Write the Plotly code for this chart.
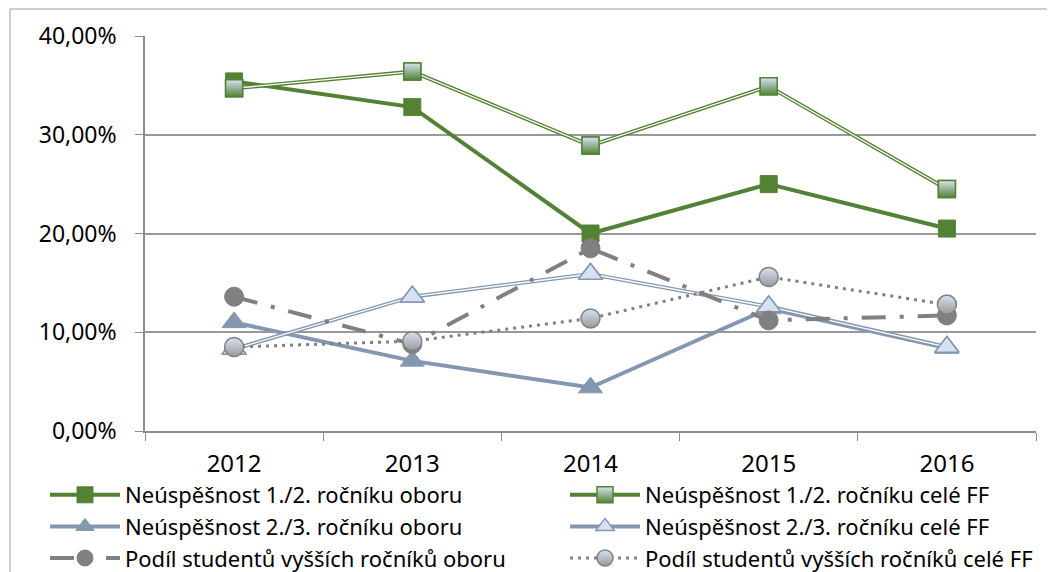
import plotly.graph_objects as go

# Years on the category axis
YEARS = ["2012", "2013", "2014", "2015", "2016"]

# Series values (fractions, shown as percent)
NEUSP_12_OBOR = [0.354, 0.328, 0.200, 0.250, 0.205]
NEUSP_12_FF = [0.347, 0.364, 0.289, 0.349, 0.245]
NEUSP_23_OBOR = [0.110, 0.071, 0.044, 0.124, 0.084]
NEUSP_23_FF = [0.083, 0.136, 0.159, 0.126, 0.085]
PODIL_OBOR = [0.136, 0.088, 0.185, 0.112, 0.117]
PODIL_FF = [0.085, 0.091, 0.114, 0.156, 0.128]

NAMES = [
    "Neúspěšnost 1./2. ročníku oboru",
    "Neúspěšnost 1./2. ročníku celé FF",
    "Neúspěšnost 2./3. ročníku oboru",
    "Neúspěšnost 2./3. ročníku celé FF",
    "Podíl studentů vyšších ročníků oboru",
    "Podíl studentů vyšších ročníků celé FF",
]

GREEN = "#548235"
BLUE = "#8497b0"
GRAY = "#808080"
LIGHT = "#d6e2f4"

W, H = 1055, 572
OFF = 8  # page body margin, figure starts 8px in

fig = go.Figure()

# 1) solid green, squares
fig.add_trace(go.Scatter(
    x=YEARS, y=NEUSP_12_OBOR, name=NAMES[0], mode="lines+markers", legendrank=1,
    line=dict(color=GREEN, width=4),
    marker=dict(symbol="square", size=17, color=GREEN, line=dict(color=GREEN, width=1)),
))

# 2) double green line, gradient squares
fig.add_trace(go.Scatter(
    x=YEARS, y=NEUSP_12_FF, name=NAMES[1], mode="lines+markers", legendrank=2,
    line=dict(color=GREEN, width=4),
    marker=dict(symbol="square", size=17, color=LIGHT,
                gradient=dict(type="vertical", color=GREEN),
                line=dict(color=GREEN, width=1.5)),
))
fig.add_trace(go.Scatter(
    x=YEARS, y=NEUSP_12_FF, mode="lines", showlegend=False, hoverinfo="skip",
    line=dict(color="white", width=1.3),
))
fig.add_trace(go.Scatter(
    x=YEARS, y=NEUSP_12_FF, mode="markers", showlegend=False, hoverinfo="skip",
    marker=dict(symbol="square", size=17, color=LIGHT,
                gradient=dict(type="vertical", color=GREEN),
                line=dict(color=GREEN, width=1.5)),
))

# 3) solid blue-gray, triangles
fig.add_trace(go.Scatter(
    x=YEARS, y=NEUSP_23_OBOR, name=NAMES[2], mode="lines+markers", legendrank=3,
    line=dict(color=BLUE, width=4),
    marker=dict(symbol="triangle-up", size=21, color=BLUE, line=dict(color=BLUE, width=1)),
))

# 4) double blue-gray line, light triangles
fig.add_trace(go.Scatter(
    x=YEARS, y=NEUSP_23_FF, name=NAMES[3], mode="lines+markers", legendrank=4,
    line=dict(color=BLUE, width=4),
    marker=dict(symbol="triangle-up", size=21, color=LIGHT, line=dict(color=BLUE, width=1.5)),
))
fig.add_trace(go.Scatter(
    x=YEARS, y=NEUSP_23_FF, mode="lines", showlegend=False, hoverinfo="skip",
    line=dict(color="white", width=1.3),
))
fig.add_trace(go.Scatter(
    x=YEARS, y=NEUSP_23_FF, mode="markers", showlegend=False, hoverinfo="skip",
    marker=dict(symbol="triangle-up", size=21, color=LIGHT, line=dict(color=BLUE, width=1.5)),
))

# 5) gray long dash-dot, circles
fig.add_trace(go.Scatter(
    x=YEARS, y=PODIL_OBOR, name=NAMES[4], mode="lines+markers", legendrank=5,
    line=dict(color=GRAY, width=4, dash="24px,14px,4px,14px"),
    marker=dict(symbol="circle", size=19, color=GRAY, line=dict(color=GRAY, width=1)),
))

# 6) gray dotted, light gradient circles
fig.add_trace(go.Scatter(
    x=YEARS, y=PODIL_FF, name=NAMES[5], mode="lines+markers", legendrank=6,
    line=dict(color=GRAY, width=3, dash="3px,5px"),
    marker=dict(symbol="circle", size=19, color=LIGHT,
                gradient=dict(type="vertical", color="#9a9a9a"),
                line=dict(color=GRAY, width=1.5)),
))

fig.update_layout(
    width=W, height=H,
    paper_bgcolor="white", plot_bgcolor="white",
    margin=dict(l=0, r=0, t=0, b=0, autoexpand=False),
    separators=", ",
    font=dict(family="Noto Sans, sans-serif", size=22, color="black"),
    showlegend=True,
    legend=dict(
        orientation="h", x=(45 - OFF) / W, xanchor="left", y=1 - (474 - OFF) / H, yanchor="top",
        entrywidth=435, entrywidthmode="pixels", tracegroupgap=0,
        font=dict(size=22), itemwidth=70, bgcolor="rgba(0,0,0,0)",
    ),
    shapes=[
        dict(type="line", xref="paper", yref="paper", x0=(10 - OFF) / W, x1=1,
             y0=1 - (9 - OFF) / H, y1=1 - (9 - OFF) / H,
             line=dict(color="#bfbfbf", width=1.5)),
        dict(type="line", xref="paper", yref="paper", x0=(10 - OFF) / W, x1=(10 - OFF) / W,
             y0=1 - (9 - OFF) / H, y1=0,
             line=dict(color="#bfbfbf", width=1.5)),
    ],
)

fig.update_xaxes(
    domain=[(145 - OFF) / W, (1036 - OFF) / W],
    type="category", range=[-0.5, 4.5], tickson="boundaries",
    ticks="outside", ticklen=8, tickcolor="#8c8c8c",
    showline=True, linecolor="#8c8c8c", linewidth=1.5,
    showgrid=False, tickfont=dict(size=24), ticklabelstandoff=10, automargin=False,
)
fig.update_yaxes(
    domain=[1 - (431 - OFF) / H, 1 - (36 - OFF) / H],
    range=[0, 0.4], dtick=0.1, tickformat=".2%",
    ticks="outside", ticklen=8, tickcolor="#8c8c8c",
    showline=True, linecolor="#8c8c8c", linewidth=1.5,
    showgrid=True, gridcolor="#999999", gridwidth=1.5,
    zeroline=False, tickfont=dict(size=23), ticklabelstandoff=14, automargin=False,
)

fig.write_html("out.html")
